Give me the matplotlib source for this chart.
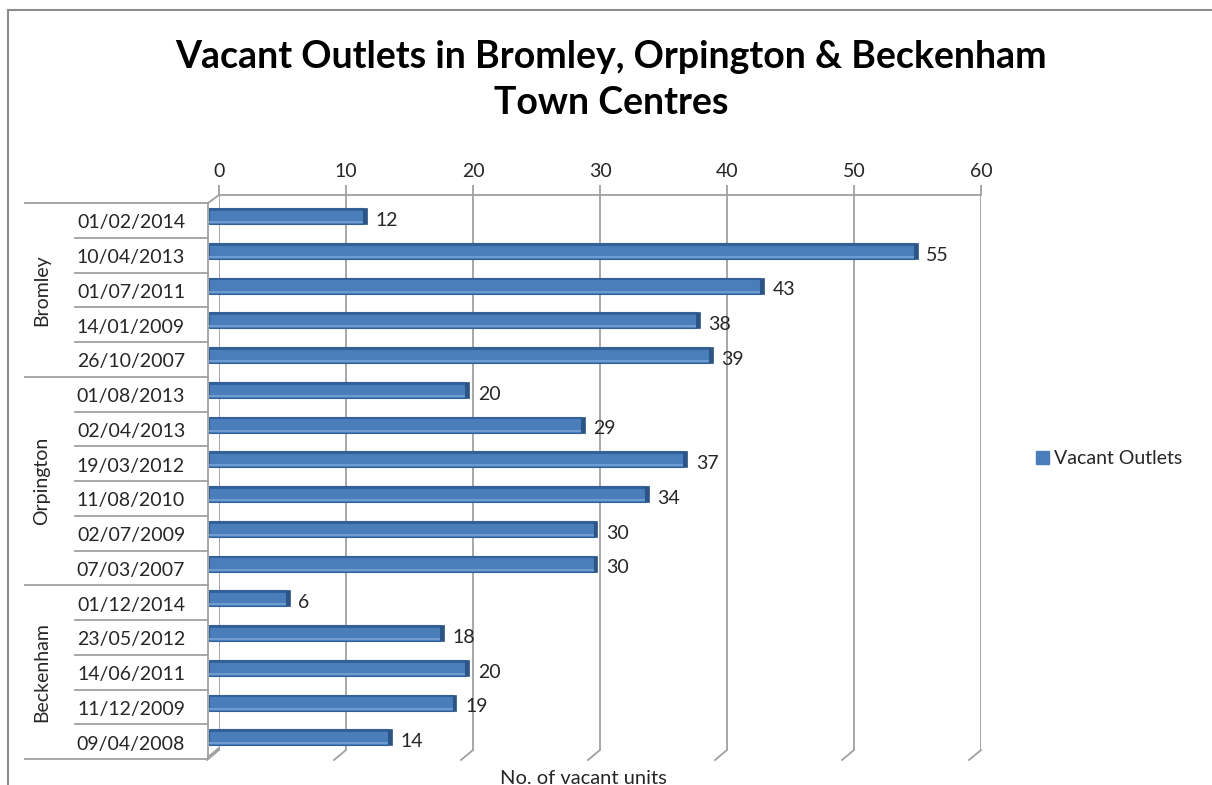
import matplotlib
matplotlib.use('Agg')
import matplotlib.pyplot as plt
from matplotlib.lines import Line2D
from matplotlib.patches import Patch
import numpy as np

# ---------------- data ----------------
towns = ['Bromley', 'Orpington', 'Beckenham']
group_sizes = [5, 6, 5]
dates = ['01/02/2014', '10/04/2013', '01/07/2011', '14/01/2009', '26/10/2007',
         '01/08/2013', '02/04/2013', '19/03/2012', '11/08/2010', '02/07/2009', '07/03/2007',
         '01/12/2014', '23/05/2012', '14/06/2011', '11/12/2009', '09/04/2008']
values = [12, 55, 43, 38, 39,
          20, 29, 37, 34, 30, 30,
          6, 18, 20, 19, 14]
x_ticks = [0, 10, 20, 30, 40, 50, 60]
series_name = 'Vacant Outlets'
title = 'Vacant Outlets in Bromley, Orpington & Beckenham\nTown Centres'
x_label = 'No. of vacant units'

# ---------------- style ----------------
W, H = 1212, 785
plt.rcParams['font.family'] = ['Lato', 'DejaVu Sans']
TXT = '#262626'
GRID = '#a0a0a0'
FACE = '#4a7ebb'
EDGE = '#34609a'
SIDE = '#2c5485'
FS = 14

fig = plt.figure(figsize=(W / 100, H / 100), dpi=100)


def fx(px):
    return px / W


def fy(py):
    return 1 - py / H


def fig_line(x0, y0, x1, y1, **kw):
    fig.add_artist(Line2D([fx(x0), fx(x1)], [fy(y0), fy(y1)], **kw))


# outer chart border
fig_line(8, 10, 8, H + 5, color='#8c8c8c', lw=1.5)
fig_line(8, 10, W + 5, 10, color='#8c8c8c', lw=1.5)

# title
fig.text(fx(611), fy(80), title, ha='center', va='center', fontsize=27,
         fontweight='bold', linespacing=1.45, color='black')

n = len(values)
top_px, bot_px = 203, 759

# ---- back wall (gridlines + top tick labels) ----
bx0, bx1, by0, by1 = 219, 981, 195, 750
ax_back = fig.add_axes([fx(bx0), fy(by1), fx(bx1 - bx0), (by1 - by0) / H])
ax_back.set_xlim(x_ticks[0], x_ticks[-1])
ax_back.set_ylim(0, 1)
ax_back.xaxis.tick_top()
ax_back.set_xticks(x_ticks)
ax_back.set_xticklabels([str(t) for t in x_ticks])
ax_back.set_yticks([])
ax_back.tick_params(axis='x', length=7, width=1.3, color=GRID, labelsize=FS,
                    labelcolor=TXT, pad=4)
for s in ['left', 'right', 'bottom']:
    ax_back.spines[s].set_visible(False)
ax_back.spines['top'].set_color(GRID)
ax_back.spines['top'].set_linewidth(1.3)
ax_back.grid(axis='x', color=GRID, lw=1.3)
ax_back.set_axisbelow(True)

# floor diagonals under each gridline
fig.canvas.draw()
inv = fig.transFigure.inverted()
for t in x_ticks:
    px, py = ax_back.transData.transform((t, 0))
    p0 = inv.transform((px, py))
    p1 = inv.transform((px - 12, py - 10))
    fig.add_artist(Line2D([p0[0], p1[0]], [p0[1], p1[1]], color=GRID, lw=1.3))

# left wall edges
fig_line(208, top_px, 208, bot_px - 2, color=GRID, lw=1.3)
fig_line(208, top_px, bx0, by0, color=GRID, lw=1.3)
fig_line(208, bot_px - 2, bx0, by1 - 2, color=GRID, lw=1.3)

# ---- category table on the left ----
cx0, cx1 = 25, 208
ax_cat = fig.add_axes([fx(cx0), fy(bot_px), fx(cx1 - cx0), (bot_px - top_px) / H])
ax_cat.set_xlim(0, 1)
ax_cat.set_ylim(n, 0)
ax_cat.axis('off')
inner_x = (75 - cx0) / (cx1 - cx0)
lab_x = (131 - cx0) / (cx1 - cx0)
grp_x = (42 - cx0) / (cx1 - cx0)
start = 0
ax_cat.plot([0, 1], [0, 0], color=GRID, lw=1.3, clip_on=False)
for town, size in zip(towns, group_sizes):
    for k in range(1, size):
        ax_cat.plot([inner_x, 1], [start + k, start + k], color=GRID, lw=1.3, clip_on=False)
    ax_cat.plot([0, 1], [start + size, start + size], color=GRID, lw=1.3, clip_on=False)
    ax_cat.text(grp_x, start + size / 2, town, rotation=90, ha='center', va='center',
                fontsize=FS, color=TXT)
    start += size
for i, d in enumerate(dates):
    ax_cat.text(lab_x, i + 0.5 + 0.07, d, ha='center', va='center', fontsize=FS, color=TXT)

# ---- bars ----
ax = fig.add_axes([fx(209), fy(bot_px), fx(978 - 209), (bot_px - top_px) / H])
shift = 0.12
ax.set_xlim(x_ticks[0], x_ticks[-1])
ax.set_ylim(n + shift, shift)
ax.patch.set_visible(False)
ax.axis('off')
ypos = np.arange(n) + 0.5
bars = ax.barh(ypos, values, height=0.46, color=FACE, edgecolor=EDGE, linewidth=0.8,
               label=series_name)
ax.barh(ypos, [0.3] * n, left=values, height=0.46, color=SIDE, edgecolor=SIDE, linewidth=0.5)
# darker top edge and light highlight on the lower edge
ax.barh(ypos - 0.19, values, height=0.07, color=EDGE, linewidth=0)
ax.barh(ypos + 0.17, values, height=0.06, color='#6f9bd1', linewidth=0)
for y, v in zip(ypos, values):
    ax.annotate(str(v), (v, y + shift), xytext=(9, 0), textcoords='offset points',
                ha='left', va='center', fontsize=FS, color=TXT)

# legend
fig.legend(handles=[Patch(facecolor=FACE, edgecolor=FACE)], labels=[series_name],
           loc='center left', bbox_to_anchor=(fx(1036), fy(459)), frameon=False,
           handlelength=0.65, handleheight=0.65, handletextpad=0.3,
           borderpad=0, borderaxespad=0, fontsize=FS, labelcolor=TXT)

# x-axis title (partially cut at the bottom)
fig.text(fx(583), fy(770), x_label, ha='center', va='top', fontsize=FS + 0.5, color=TXT)

fig.savefig('out.png', dpi=100)
